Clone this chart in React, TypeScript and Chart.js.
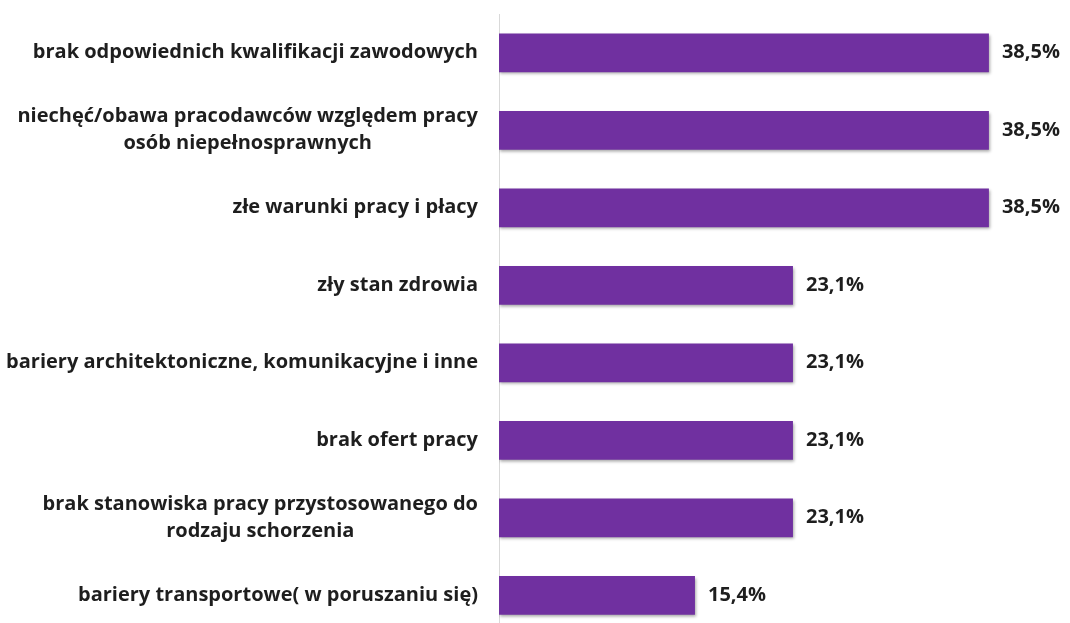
import React, { useEffect, useRef } from 'react';
import { Chart, registerables } from 'chart.js';

Chart.register(...registerables);

const categories: string[][] = [
  ['brak odpowiednich kwalifikacji zawodowych'],
  ['niechęć/obawa pracodawców względem pracy', 'osób niepełnosprawnych'],
  ['złe warunki pracy i płacy'],
  ['zły stan zdrowia'],
  ['bariery architektoniczne, komunikacyjne i inne'],
  ['brak ofert pracy'],
  ['brak stanowiska pracy przystosowanego do', 'rodzaju schorzenia'],
  ['bariery transportowe( w poruszaniu się)'],
];
const values: number[] = [38.5, 38.5, 38.5, 23.1, 23.1, 23.1, 23.1, 15.4];
const valueLabels: string[] = values.map((v) => v.toFixed(1).replace('.', ',') + '%');

const BAR_COLOR = '#7030A0';
const TEXT_COLOR = '#1e1e1e';
const FONT = 'bold 20px "Open Sans"';
const LINE_H = 27;

export default function App() {
  const ref = useRef<HTMLCanvasElement | null>(null);

  useEffect(() => {
    if (!ref.current) return;
    const shadowPlugin = {
      id: 'barShadow',
      beforeDatasetsDraw(chart: any) {
        const ctx = chart.ctx;
        ctx.save();
        ctx.shadowColor = 'rgba(0,0,0,0.35)';
        ctx.shadowBlur = 3;
        ctx.shadowOffsetX = 1;
        ctx.shadowOffsetY = 2;
      },
      afterDatasetsDraw(chart: any) {
        chart.ctx.restore();
      },
    };
    const labelPlugin = {
      id: 'customLabels',
      afterDraw(chart: any) {
        const ctx = chart.ctx;
        const yScale = chart.scales.y;
        const meta = chart.getDatasetMeta(0);
        ctx.save();
        ctx.font = FONT;
        ctx.fillStyle = TEXT_COLOR;
        ctx.textBaseline = 'middle';
        const rightEdge = chart.chartArea.left - 21;
        categories.forEach((lines, i) => {
          const yc = yScale.getPixelForTick(i);
          const maxW = Math.max(...lines.map((l) => ctx.measureText(l).width));
          const cx = rightEdge - maxW / 2;
          ctx.textAlign = 'center';
          lines.forEach((l, j) => {
            const y = yc + (j - (lines.length - 1) / 2) * LINE_H;
            ctx.fillText(l, cx, y);
          });
        });
        ctx.textAlign = 'left';
        meta.data.forEach((bar: any, i: number) => {
          ctx.fillText(valueLabels[i], bar.x + 13, bar.y);
        });
        ctx.restore();
      },
    };
    const chart = new Chart(ref.current, {
      type: 'bar',
      data: {
        labels: categories,
        datasets: [
          {
            data: values,
            backgroundColor: BAR_COLOR,
            borderWidth: 0,
            categoryPercentage: 1,
            barPercentage: 0.5,
          },
        ],
      },
      options: {
        indexAxis: 'y',
        responsive: false,
        animation: false,
        maintainAspectRatio: false,
        layout: { padding: { top: 14, right: 62, bottom: 0, left: 0 } },
        plugins: { legend: { display: false }, tooltip: { enabled: false } },
        scales: {
          x: { display: false, min: 0, max: 40 },
          y: {
            grid: { display: false },
            border: { display: true, color: '#d9d9d9', width: 1 },
            ticks: { display: false },
            afterFit: (s: any) => {
              s.width = 499;
            },
          },
        },
      },
      plugins: [shadowPlugin, labelPlugin],
    } as any);
    return () => chart.destroy();
  }, []);

  return (
    <div
      style={{
        position: 'fixed',
        left: 0,
        top: 0,
        width: 1070,
        height: 623,
        overflow: 'hidden',
        background: '#fff',
      }}
    >
      <canvas ref={ref} width={1070} height={634} style={{ display: 'block' }} />
    </div>
  );
}
